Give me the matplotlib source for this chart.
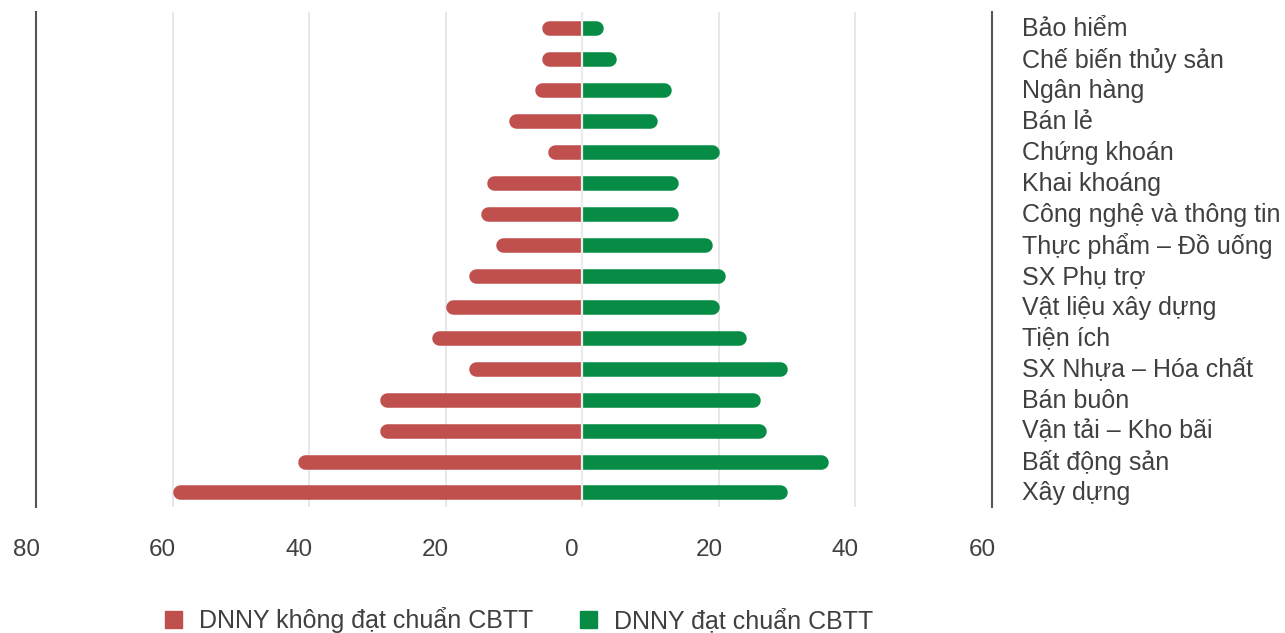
import matplotlib
matplotlib.use("Agg")
import matplotlib.pyplot as plt
import matplotlib.transforms as mtransforms
from matplotlib.patches import Patch, Rectangle
import numpy as np

plt.rcParams["font.family"] = ["Liberation Sans", "DejaVu Sans"]

SECTORS = ["Bảo hiểm", "Chế biến thủy sản", "Ngân hàng", "Bán lẻ", "Chứng khoán",
           "Khai khoáng", "Công nghệ và thông tin", "Thực phẩm – Đồ uống",
           "SX Phụ trợ", "Vật liệu xây dựng", "Tiện ích", "SX Nhựa – Hóa chất",
           "Bán buôn", "Vận tải – Kho bãi", "Bất động sản", "Xây dựng"]
NOT_OK = [6, 6, 7, 10.7, 5, 14, 14.8, 12.7, 16.7, 20, 22, 16.7, 29.7, 29.7, 41.7, 60]
OK = [3, 5, 13, 11, 20, 14, 14, 19, 21, 20, 24, 30, 26, 27, 36, 30]
XTICKS = [-80, -60, -40, -20, 0, 20, 40, 60]
LABEL_NOT_OK = "DNNY không đạt chuẩn CBTT"
LABEL_OK = "DNNY đạt chuẩn CBTT"

RED = "#C0504D"
GREEN = "#078C45"
TXT = "#404040"

W, H, DPI = 1285, 633, 100
fig = plt.figure(figsize=(W / DPI, H / DPI), dpi=DPI)
left, right, top, bottom = 36, 992, 12, 507
ax = fig.add_axes([left / W, 1 - bottom / H, (right - left) / W, (bottom - top) / H])

XLIM = (-80, 60)
YLIM = (15.47, -0.53)
ax.set_xlim(*XLIM)
ax.set_ylim(*YLIM)

bh = 0.47
# round outer caps: thick lines clipped at zero; radius converted to x data units
px_per_row = (bottom - top) / abs(YLIM[0] - YLIM[1])
px_per_unit = (right - left) / (XLIM[1] - XLIM[0])
r_px = bh * px_per_row / 2
r = r_px / px_per_unit
lw = 2 * r_px * 72 / DPI

clip_neg = Rectangle((XLIM[0], -5), -XLIM[0], 30, transform=ax.transData)
clip_pos = Rectangle((0, -5), XLIM[1], 30, transform=ax.transData)

for i, (a, b) in enumerate(zip(NOT_OK, OK)):
    ln, = ax.plot([0, -(a - r)], [i, i], color=RED, lw=lw,
                  solid_capstyle="round", zorder=2)
    ln.set_clip_path(clip_neg)
    ln, = ax.plot([0, b - r], [i, i], color=GREEN, lw=lw,
                  solid_capstyle="round", zorder=2)
    ln.set_clip_path(clip_pos)
ax.axvline(0, color="#ebebeb", lw=1.6, zorder=3)

ax.set_xticks(XTICKS)
ax.set_xticklabels([str(abs(v)) for v in XTICKS])
ax.xaxis.grid(True, color="#e3e3e3", lw=1.2, zorder=0)
ax.set_axisbelow(True)
ax.tick_params(axis="x", length=0, pad=23, labelsize=17.5, labelcolor=TXT)
off = mtransforms.ScaledTranslation(-10 / DPI, 0, fig.dpi_scale_trans)
for lab in ax.get_xticklabels():
    lab.set_transform(lab.get_transform() + off)

y = np.arange(len(SECTORS))
ax.set_yticks(y)
ax.set_yticklabels(SECTORS)
ax.yaxis.tick_right()
ax.tick_params(axis="y", length=0, pad=21.5, labelsize=18, labelcolor=TXT)
up = mtransforms.ScaledTranslation(0, 1.5 / DPI, fig.dpi_scale_trans)
for t in ax.yaxis.get_major_ticks():
    t.label2.set_transform(t.label2.get_transform() + up)

for side in ("top", "bottom"):
    ax.spines[side].set_visible(False)
for side in ("left", "right"):
    ax.spines[side].set_color("#555555")
    ax.spines[side].set_linewidth(1.5)

handles = [Patch(color=RED, label=LABEL_NOT_OK), Patch(color=GREEN, label=LABEL_OK)]
fig.legend(handles=handles, loc="center", bbox_to_anchor=(519 / W, 1 - 620 / H),
           ncol=2, frameon=False, fontsize=18, handlelength=0.68, handleheight=0.68,
           handletextpad=0.68, columnspacing=1.84, borderpad=0, labelcolor=TXT)

fig.savefig("out.png", dpi=DPI)
